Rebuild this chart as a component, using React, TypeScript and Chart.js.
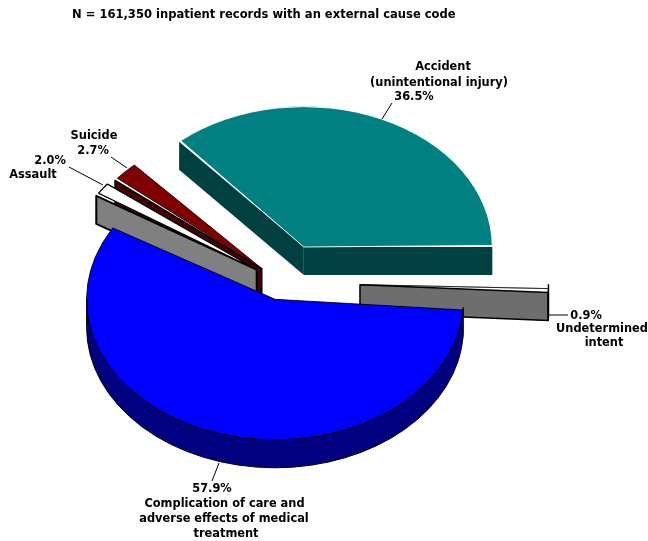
import React, { useEffect, useRef } from "react";
import { Chart, registerables } from "chart.js";

Chart.register(...registerables);

const TITLE = "N = 161,350 inpatient records with an external cause code";
const categories = ["Accident (unintentional injury)", "Undetermined intent", "Complication of care and adverse effects of medical treatment", "Assault", "Suicide"];
const shares = [36.5, 0.9, 57.9, 2.0, 2.7];
const explode = [53, 78, 23, 31, 28];
const topColors = ["#008080", "#d4d4d4", "#0000ff", "#ffffff", "#800000"];
const wallColors = ["#004040", "#6e6e6e", "#000080", "#808080", "#400000"];
const edgeColors = ["#ffffff", "#000000", "#000000", "#000000", "#000000"];
const edgeWidths = [1, 0.7, 1, 1.5, 1];
const wallEdgeColors = ["#004040", "#000000", "#000000", "#000000", "#000000"];
const wallEdgeWidths = [0, 1.5, 1, 2, 1.5];
const wallOrder = [0, 4, 3, 1, 2];

const CX = 282;
const CY = 283;
const RADIUS = 188.5;
const TILT = 0.745;
const DEPTH = 28;
const FONT = 'bold 11.4px "DejaVu Sans"';

const textLabels: [string, number, number][] = [
  ["Accident", 443, 67.5],
  ["(unintentional injury)", 439, 83.5],
  ["36.5%", 414, 97.5],
  ["Suicide", 94, 136.5],
  ["2.7%", 93, 151.5],
  ["2.0%", 50, 161.5],
  ["Assault", 33, 175.5],
  ["0.9%", 586, 316.5],
  ["Undetermined", 602, 329.5],
  ["intent", 604, 343.5],
  ["57.9%", 212, 489.5],
  ["Complication of care and", 224.5, 504.5],
  ["adverse effects of medical", 224, 519.5],
  ["treatment", 226, 534.5],
];
const leaders: [number, number, number, number][] = [
  [392, 103, 382, 119],
  [111, 157, 127, 168],
  [69, 167, 103, 185],
  [549, 315, 568, 315],
  [219, 463, 212, 481],
];

const pie3d = {
  id: "pie3d",
  afterDatasetsUpdate(chart: any) {
    const arcs = chart.getDatasetMeta(0).data;
    arcs.forEach((arc: any, i: number) => {
      const circ = arc.endAngle - arc.startAngle;
      const fix = 1 - Math.sin(Math.min(Math.PI, circ));
      arc.outerRadius = RADIUS - explode[i] * fix;
    });
  },
  beforeDatasetsDraw(chart: any) {
    const ctx = chart.ctx as CanvasRenderingContext2D;
    const arcs = chart.getDatasetMeta(0).data;
    for (const i of wallOrder) {
      const a = arcs[i];
      const s = a.startAngle;
      const e = a.endAngle;
      const mid = (s + e) / 2;
      const sx = CX + explode[i] * Math.cos(mid);
      const sy = CY + explode[i] * Math.sin(mid) * TILT;
      const px = (t: number) => sx + RADIUS * Math.cos(t);
      const py = (t: number) => sy + RADIUS * TILT * Math.sin(t);
      ctx.save();
      ctx.fillStyle = wallColors[i];
      ctx.strokeStyle = wallEdgeColors[i];
      ctx.lineWidth = wallEdgeWidths[i] || 0.01;
      ctx.lineJoin = "round";
      const quad = (t: number) => {
        ctx.beginPath();
        ctx.moveTo(sx, sy);
        ctx.lineTo(px(t), py(t));
        ctx.lineTo(px(t), py(t) + DEPTH);
        ctx.lineTo(sx, sy + DEPTH);
        ctx.closePath();
        ctx.fill();
        ctx.stroke();
      };
      if (Math.cos(s) < 0) quad(s);
      if (Math.cos(e) > 0) quad(e);
      // outer rim: the part of the arc that faces the viewer
      const norm = (t: number) => ((t % (2 * Math.PI)) + 2 * Math.PI) % (2 * Math.PI);
      const s0 = norm(s);
      const lo = s0 < Math.PI ? s0 : s0 > norm(e) ? 0 : Math.PI;
      const hi = Math.min(s0 < Math.PI ? s0 + (e - s) : norm(e), Math.PI);
      if (hi > lo && lo < Math.PI) {
        ctx.beginPath();
        ctx.ellipse(sx, sy, RADIUS, RADIUS * TILT, 0, lo, hi);
        ctx.ellipse(sx, sy + DEPTH, RADIUS, RADIUS * TILT, 0, hi, lo, true);
        ctx.closePath();
        ctx.fill();
        ctx.stroke();
      }
      ctx.restore();
    }
    ctx.save();
    const ref = arcs[0];
    ctx.translate(CX, CY);
    ctx.scale(1, TILT);
    ctx.translate(-ref.x, -ref.y);
  },
  afterDatasetsDraw(chart: any) {
    const ctx = chart.ctx as CanvasRenderingContext2D;
    ctx.restore();
    ctx.save();
    ctx.strokeStyle = "#000000";
    ctx.lineWidth = 1;
    for (const [x1, y1, x2, y2] of leaders) {
      ctx.beginPath();
      ctx.moveTo(x1, y1);
      ctx.lineTo(x2, y2);
      ctx.stroke();
    }
    ctx.fillStyle = "#000000";
    ctx.font = FONT;
    ctx.textAlign = "center";
    ctx.textBaseline = "middle";
    for (const [t, x, y] of textLabels) ctx.fillText(t, x, y);
    ctx.restore();
  },
};

export default function App() {
  const ref = useRef<HTMLCanvasElement>(null);
  useEffect(() => {
    if (!ref.current) return;
    const chart = new Chart(ref.current, {
      type: "pie",
      data: {
        labels: categories,
        datasets: [
          {
            data: shares,
            backgroundColor: topColors,
            borderColor: edgeColors,
            borderWidth: edgeWidths,
            offset: explode.map((v) => v * 4),
            radius: RADIUS,
            clip: false,
          } as any,
        ],
      },
      options: {
        responsive: false,
        animation: false,
        events: [],
        rotation: -41.4,
        layout: { padding: { left: 72 } },
        plugins: {
          legend: { display: false },
          tooltip: { enabled: false },
          title: {
            display: true,
            text: TITLE,
            align: "start",
            color: "#000000",
            font: { family: '"DejaVu Sans"', size: 11.55, weight: "bold" },
            padding: { top: 8, bottom: 0 },
          },
        },
      },
      plugins: [pie3d],
    } as any);
    return () => chart.destroy();
  }, []);
  return (
    <div style={{ position: "fixed", left: 0, top: 0, width: 648, height: 541, background: "#fff" }}>
      <canvas ref={ref} width={648} height={541} style={{ display: "block" }} />
    </div>
  );
}
